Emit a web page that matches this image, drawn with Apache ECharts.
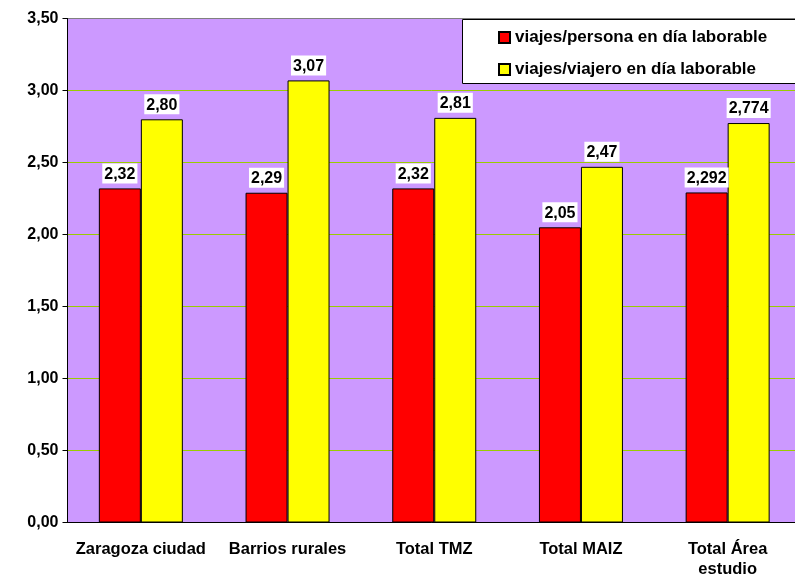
<!DOCTYPE html>
<html>
<head>
<meta charset="utf-8">
<script src="https://cdn.jsdelivr.net/npm/echarts@6/dist/echarts.min.js"></script>
<style>
  html, body { margin: 0; padding: 0; background: #fff; }
  #chart { width: 795px; height: 574px; }
</style>
</head>
<body>
<div id="chart"></div>
<script>
// datos
const categories = ['Zaragoza ciudad', 'Barrios rurales', 'Total TMZ', 'Total MAIZ', 'Total Área\nestudio']
const seriesNames = ['viajes/persona en día laborable', 'viajes/viajero en día laborable']
const personaData = [2.32, 2.29, 2.32, 2.05, 2.292]
const viajeroData = [2.80, 3.07, 2.81, 2.47, 2.774]
const personaLabels = ['2,32', '2,29', '2,32', '2,05', '2,292']
const viajeroLabels = ['2,80', '3,07', '2,81', '2,47', '2,774']

const fontFamily = '"Liberation Sans", Arial, sans-serif'

function labelOf(texts) {
  return {
    show: true,
    position: 'top',
    distance: 5,
    color: '#000',
    fontWeight: 'bold',
    fontSize: 16,
    fontFamily: fontFamily,
    backgroundColor: '#fff',
    padding: [3, 2, 1, 2],
    formatter: p => texts[p.dataIndex]
  }
}

// lineas de division: la ultima (3,50) es el borde gris
const gridColors = ['#99CC00', '#99CC00', '#99CC00', '#99CC00', '#99CC00', '#99CC00', '#99CC00', '#808080']

const chart = echarts.init(document.getElementById('chart'))
chart.setOption({
  animation: false,
  textStyle: { fontFamily: fontFamily },
  grid: {
    left: 67.5,
    right: -6,
    top: 18.5,
    bottom: 51.5,
    containLabel: false,
    outerBoundsMode: 'none',
    show: true,
    backgroundColor: '#CC99FF',
    borderColor: '#808080',
    borderWidth: 1
  },
  // recuadro de la leyenda, abierto por la derecha (cortado como en el original)
  graphic: [
    {
      type: 'rect',
      z: 10,
      shape: { x: 462, y: 19, width: 340, height: 65 },
      style: { fill: '#fff' }
    },
    {
      type: 'polyline',
      z: 11,
      shape: { points: [[800, 19.5], [462.5, 19.5], [462.5, 83.5], [800, 83.5]] },
      style: { stroke: '#000', lineWidth: 1, fill: null }
    }
  ],
  legend: {
    orient: 'vertical',
    left: 498,
    top: 29,
    z: 20,
    padding: 0,
    itemGap: 15,
    itemWidth: 11,
    itemHeight: 11,
    icon: 'rect',
    textStyle: { fontWeight: 'bold', fontSize: 17, color: '#000' },
    data: seriesNames
  },
  xAxis: {
    type: 'category',
    data: categories,
    axisLine: { lineStyle: { color: '#000' } },
    axisTick: { length: 5, lineStyle: { color: '#000' } },
    axisLabel: {
      color: '#000',
      fontWeight: 'bold',
      fontSize: 16.5,
      margin: 17,
      lineHeight: 20,
      interval: 0
    }
  },
  yAxis: {
    type: 'value',
    min: 0,
    max: 3.5,
    interval: 0.5,
    axisLine: { show: true, lineStyle: { color: '#000' } },
    axisTick: { show: true, length: 5, lineStyle: { color: '#000' } },
    splitLine: { lineStyle: { color: gridColors, width: 1 } },
    axisLabel: {
      color: '#000',
      fontWeight: 'bold',
      fontSize: 16,
      margin: 9,
      formatter: v => v.toFixed(2).replace('.', ',')
    }
  },
  series: [
    {
      name: seriesNames[0],
      type: 'bar',
      data: personaData,
      barWidth: 42,
      barGap: '0%',
      itemStyle: { color: '#FF0000', borderColor: '#000', borderWidth: 1 },
      label: labelOf(personaLabels)
    },
    {
      name: seriesNames[1],
      type: 'bar',
      data: viajeroData,
      barWidth: 42,
      barGap: '0%',
      itemStyle: { color: '#FFFF00', borderColor: '#000', borderWidth: 1 },
      label: labelOf(viajeroLabels)
    }
  ]
})
</script>
</body>
</html>
